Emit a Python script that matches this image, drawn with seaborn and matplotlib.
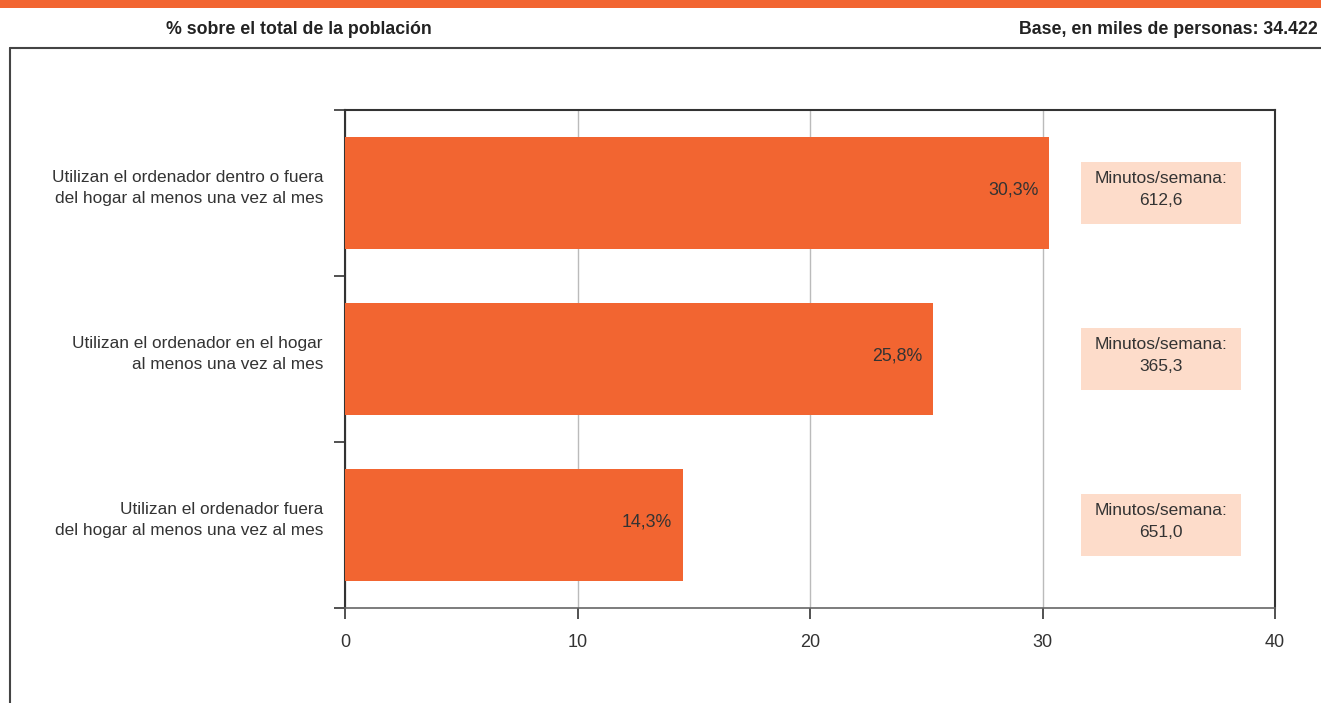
import matplotlib
matplotlib.use("Agg")
import matplotlib.pyplot as plt
import seaborn as sns
import pandas as pd
from matplotlib.lines import Line2D
from matplotlib.patches import Rectangle

categories = [
    "Utilizan el ordenador dentro o fuera\ndel hogar al menos una vez al mes",
    "Utilizan el ordenador en el hogar\nal menos una vez al mes",
    "Utilizan el ordenador fuera\ndel hogar al menos una vez al mes",
]
# bar lengths as drawn in the picture
values = [30.3, 25.3, 14.55]
value_labels = ["30,3%", "25,8%", "14,3%"]
minutes_labels = ["Minutos/semana:\n612,6", "Minutos/semana:\n365,3", "Minutos/semana:\n651,0"]
x_ticks = [0, 10, 20, 30, 40]
header_left = "% sobre el total de la población"
header_right = "Base, en miles de personas: 34.422"

ORANGE = "#F26531"
BOX = "#FDDCCA"
TXT = "#333333"

sns.set_theme(style="white")
plt.rcParams["font.family"] = ["Liberation Sans", "DejaVu Sans"]

W, H = 1321, 703
fig = plt.figure(figsize=(W / 100, H / 100), dpi=100)

# top band
fig.add_artist(Rectangle((0, 1 - 8 / H), 1, 8 / H, transform=fig.transFigure,
                         color=ORANGE, lw=0))
# outer frame
fig.add_artist(Line2D([10 / W, 10 / W], [0, 1 - 48 / H], transform=fig.transFigure,
                      color="#444444", lw=1.5))
fig.add_artist(Line2D([10 / W, 1], [1 - 48 / H, 1 - 48 / H], transform=fig.transFigure,
                      color="#444444", lw=1.5))
fig.text(166 / W, 1 - 29 / H, header_left, ha="left", va="center", fontsize=12.8,
         color="#222222", fontweight="bold")
fig.text(1318 / W, 1 - 29 / H, header_right, ha="right", va="center", fontsize=12.8,
         color="#222222", fontweight="bold")

ax = fig.add_axes([345 / W, (H - 608) / H, (1275 - 345) / W, (608 - 110) / H])
df = pd.DataFrame({"cat": categories, "val": values})
sns.barplot(data=df, y="cat", x="val", orient="h", color=ORANGE, width=0.68,
            saturation=1, ax=ax, zorder=3)
for p in ax.patches:
    p.set_edgecolor("none")

ax.set_xlim(0, 40)
ax.set_ylim(2.5, -0.5)
ax.set_xticks(x_ticks)
ax.set_xticklabels([str(t) for t in x_ticks], fontsize=13, color=TXT)
ax.set_yticks([-0.5, 0.5, 1.5, 2.5])
ax.set_yticklabels([])
ax.tick_params(axis="y", which="major", length=8, width=1.2, color="#333333", direction="out", left=True)
ax.tick_params(axis="x", length=8, width=1.2, color="#333333", direction="out", bottom=True, pad=11)
ax.set_xlabel("")
ax.set_ylabel("")
ax.grid(axis="x", color="#BBBBBB", lw=1, zorder=0)
ax.set_axisbelow(True)
for s in ax.spines.values():
    s.set_visible(True)
    s.set_color("#333333")
    s.set_linewidth(1.5)
ax.spines["bottom"].set_color("#666666")
ax.spines["bottom"].set_linewidth(1.2)

# category labels (right-aligned left of the axis)
ytr = ax.get_yaxis_transform()
for i, lab in enumerate(categories):
    ax.text(-22 / 930, i - 0.03, lab, transform=ytr, ha="right", va="center",
            multialignment="right", fontsize=12.4, color=TXT, linespacing=1.55,
            clip_on=False)

for i, (v, lab) in enumerate(zip(values, value_labels)):
    ax.text(v - 0.47, i - 0.02, lab, ha="right", va="center", fontsize=12.8, color=TXT, zorder=5)

for i, lab in enumerate(minutes_labels):
    ax.add_patch(Rectangle((31.65, i - 0.185), 6.9, 0.37, color=BOX, lw=0, zorder=4))
    ax.text(31.65 + 3.45, i - 0.02, lab, ha="center", va="center", fontsize=12.5,
            color=TXT, zorder=5, linespacing=1.55)

fig.savefig("out.png", dpi=100)
